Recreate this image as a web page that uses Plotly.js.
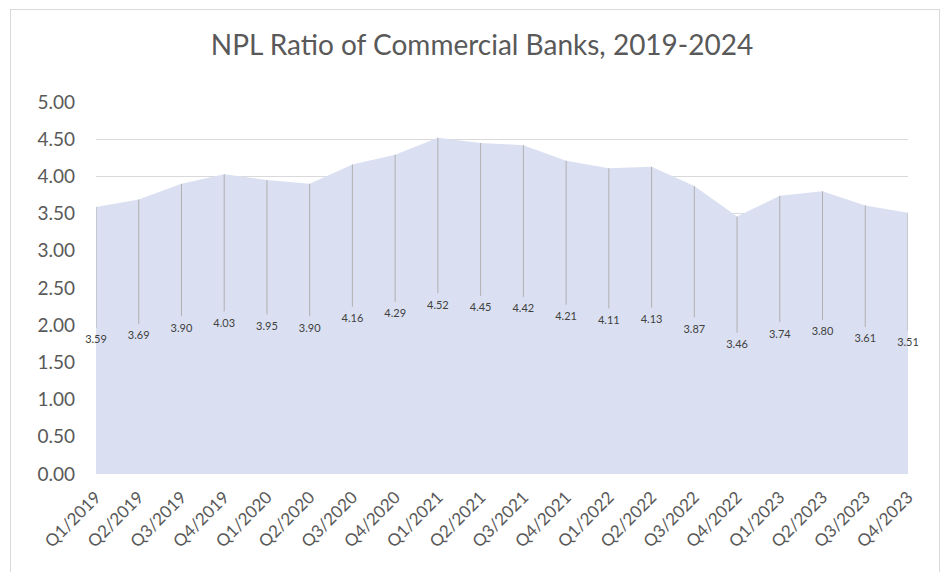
<!DOCTYPE html>
<html>
<head>
<meta charset="utf-8">
<script src="https://cdn.plot.ly/plotly-3.0.1.min.js"></script>
<style>
  html, body { margin: 0; padding: 0; background: #ffffff; }
  #wrap { position: relative; width: 947px; height: 572px; overflow: hidden; }
  #chart { width: 947px; height: 572px; }
  #frame { position: absolute; left: 10px; top: 9px; width: 928px; height: 600px;
           border: 1px solid #d9d9d9; pointer-events: none; }
</style>
</head>
<body>
<div id="wrap">
  <div id="chart"></div>
  <div id="frame"></div>
</div>
<script>
const quarters = ["Q1/2019","Q2/2019","Q3/2019","Q4/2019","Q1/2020","Q2/2020","Q3/2020","Q4/2020",
                  "Q1/2021","Q2/2021","Q3/2021","Q4/2021","Q1/2022","Q2/2022","Q3/2022","Q4/2022",
                  "Q1/2023","Q2/2023","Q3/2023","Q4/2023"];
const nplRatio = [3.59, 3.69, 3.90, 4.03, 3.95, 3.90, 4.16, 4.29,
                  4.52, 4.45, 4.42, 4.21, 4.11, 4.13, 3.87, 3.46,
                  3.74, 3.80, 3.61, 3.51];
const yTicks = [0, 0.5, 1, 1.5, 2, 2.5, 3, 3.5, 4, 4.5, 5];
const titleText = "NPL Ratio of Commercial Banks, 2019-2024";

const FONT = "Lato, 'Open Sans', sans-serif";
const GREY = "#595959";

// Excel-style data labels sit at the middle of the area, joined by leader lines
const labelY = nplRatio.map(v => v / 2);
const leadX = [], leadY = [];
quarters.forEach((q, i) => {
  leadX.push(q, q, null);
  leadY.push(nplRatio[i], labelY[i] + 0.17, null);
});

const area = {
  type: "scatter", mode: "lines", x: quarters, y: nplRatio,
  fill: "tozeroy", fillcolor: "#dae0f2",
  line: { width: 0, color: "#dae0f2" }, hoverinfo: "skip", showlegend: false
};
const leaders = {
  type: "scatter", mode: "lines", x: leadX, y: leadY,
  line: { width: 1, color: "#b0b0b0" }, hoverinfo: "skip", showlegend: false
};
const labels = {
  type: "scatter", mode: "text", x: quarters, y: labelY,
  text: nplRatio.map(v => v.toFixed(2)), textposition: "middle center",
  textfont: { family: FONT, size: 11, color: "#404040" },
  cliponaxis: false, hoverinfo: "skip", showlegend: false
};

const layout = {
  width: 947, height: 572,
  paper_bgcolor: "rgba(0,0,0,0)", plot_bgcolor: "rgba(0,0,0,0)",
  margin: { l: 96, r: 39, t: 102, b: 98 },
  title: {
    text: titleText, x: 482 / 947, xanchor: "center", xref: "container",
    y: 1 - 45 / 572, yanchor: "middle", yref: "container",
    font: { family: FONT, size: 28, color: GREY }
  },
  xaxis: {
    type: "category", categoryorder: "array", categoryarray: quarters,
    range: [0, quarters.length - 1],
    tickangle: -45, showgrid: false, zeroline: false, showline: false,
    ticks: "", ticklabelstandoff: 9,
    tickfont: { family: FONT, size: 17, color: GREY }
  },
  yaxis: {
    range: [0, 5], tickvals: yTicks, ticktext: yTicks.map(v => v.toFixed(2)),
    showgrid: true, gridcolor: "#d9d9d9", gridwidth: 1,
    zeroline: false, showline: false, ticks: "", ticklabelstandoff: 20,
    tickfont: { family: FONT, size: 19, color: GREY }
  }
};

Plotly.newPlot("chart", [area, leaders, labels], layout, { displayModeBar: false, staticPlot: true });
</script>
</body>
</html>
